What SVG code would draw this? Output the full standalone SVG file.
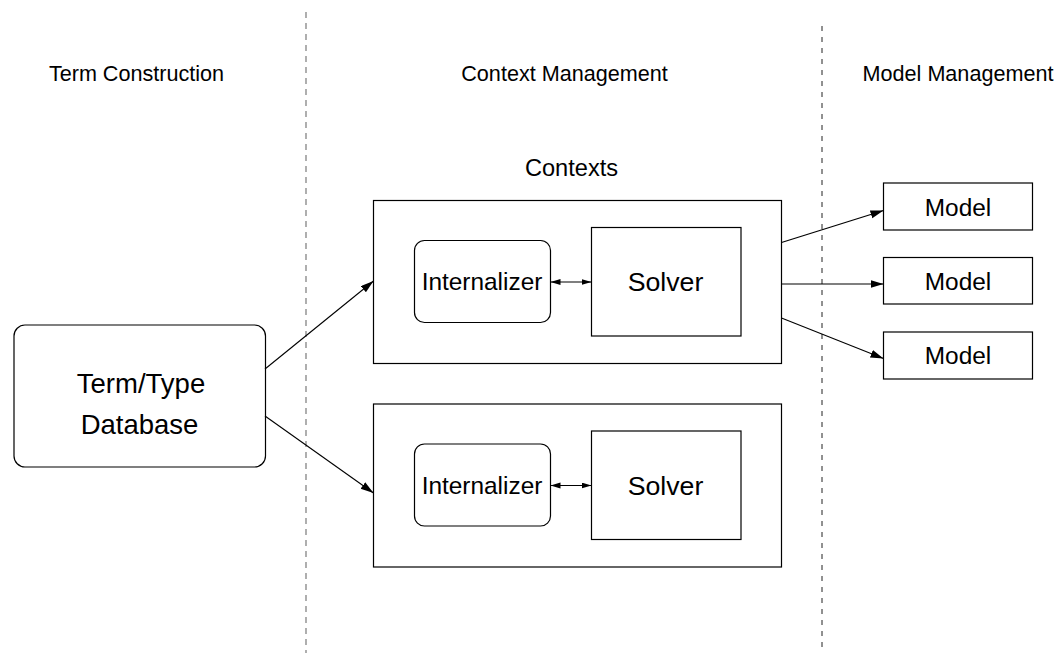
<svg xmlns="http://www.w3.org/2000/svg" width="1057" height="653" viewBox="0 0 1057 653">
<style>
  .t { font-family: "Liberation Sans", Arial, sans-serif; fill: #000; text-anchor: middle; }
  .box { fill: #fff; stroke: #000; stroke-width: 1.2; }
  .edge { fill: none; stroke: #000; stroke-width: 1.1; }
</style>
<defs>
  <marker id="ah" markerUnits="userSpaceOnUse" markerWidth="14" markerHeight="10" refX="13" refY="4" orient="auto">
    <path d="M0,0 L13,4 L0,8 Z" fill="#000"/>
  </marker>
  <marker id="sh" markerUnits="userSpaceOnUse" markerWidth="11" markerHeight="8" refX="10" refY="3" orient="auto-start-reverse">
    <path d="M0,0 L10,3 L0,6 Z" fill="#000"/>
  </marker>
</defs>
<rect width="1057" height="653" fill="#fff"/>
<g id="dividers">
  <line x1="306" y1="12" x2="306" y2="653" stroke="#7a7a7a" stroke-width="1.2" stroke-dasharray="6,5"/>
  <line x1="822" y1="26" x2="822" y2="653" stroke="#222" stroke-width="1" stroke-dasharray="5,6"/>
</g>
<g id="headers">
  <text class="t" x="136.5" y="81" font-size="21.6">Term Construction</text>
  <text class="t" x="564.5" y="81" font-size="21.6">Context Management</text>
  <text class="t" x="958" y="81" font-size="21.6">Model Management</text>
  <text class="t" x="571.5" y="176" font-size="23.6">Contexts</text>
</g>
<g id="termdb">
  <rect class="box" x="14" y="325" width="251.5" height="142" rx="11"/>
  <text class="t" x="141" y="393" font-size="27.5">Term/Type</text>
  <text class="t" x="139.5" y="434" font-size="27.5">Database</text>
</g>
<g id="context1">
  <rect class="box" x="373.5" y="200.5" width="408" height="163"/>
</g>
<g id="internalizer1">
  <rect class="box" x="414.5" y="240.5" width="136" height="82" rx="10"/>
  <text class="t" x="482" y="290" font-size="24.4">Internalizer</text>
</g>
<g id="solver1">
  <rect class="box" x="591.5" y="227.5" width="149.5" height="108.5"/>
  <text class="t" x="665.5" y="291" font-size="26.7">Solver</text>
</g>
<g id="context2">
  <rect class="box" x="373.5" y="404" width="408" height="163"/>
</g>
<g id="internalizer2">
  <rect class="box" x="414.5" y="444" width="136" height="82" rx="10"/>
  <text class="t" x="482" y="493.5" font-size="24.4">Internalizer</text>
</g>
<g id="solver2">
  <rect class="box" x="591.5" y="431" width="149.5" height="108.5"/>
  <text class="t" x="665.5" y="494.5" font-size="26.7">Solver</text>
</g>
<g id="model1">
  <rect class="box" x="883.5" y="183" width="149" height="47"/>
  <text class="t" x="958" y="215.5" font-size="24.4">Model</text>
</g>
<g id="model2">
  <rect class="box" x="883.5" y="257.5" width="149" height="46.5"/>
  <text class="t" x="958" y="289.5" font-size="24.4">Model</text>
</g>
<g id="model3">
  <rect class="box" x="883.5" y="332" width="149" height="47"/>
  <text class="t" x="958" y="364" font-size="24.4">Model</text>
</g>
<g id="connectors">
  <line class="edge" x1="265" y1="369" x2="373.5" y2="281" marker-end="url(#ah)"/>
  <line class="edge" x1="265" y1="416" x2="373.5" y2="493" marker-end="url(#ah)"/>
  <line class="edge" x1="550.5" y1="282" x2="591.5" y2="282" marker-start="url(#sh)" marker-end="url(#sh)"/>
  <line class="edge" x1="550.5" y1="485.5" x2="591.5" y2="485.5" marker-start="url(#sh)" marker-end="url(#sh)"/>
  <line class="edge" x1="781.5" y1="242.5" x2="883.5" y2="210.5" marker-end="url(#ah)"/>
  <line class="edge" x1="781.5" y1="284" x2="883.5" y2="284" marker-end="url(#ah)"/>
  <line class="edge" x1="781.5" y1="318" x2="883.5" y2="358.5" marker-end="url(#ah)"/>
</g>
</svg>
